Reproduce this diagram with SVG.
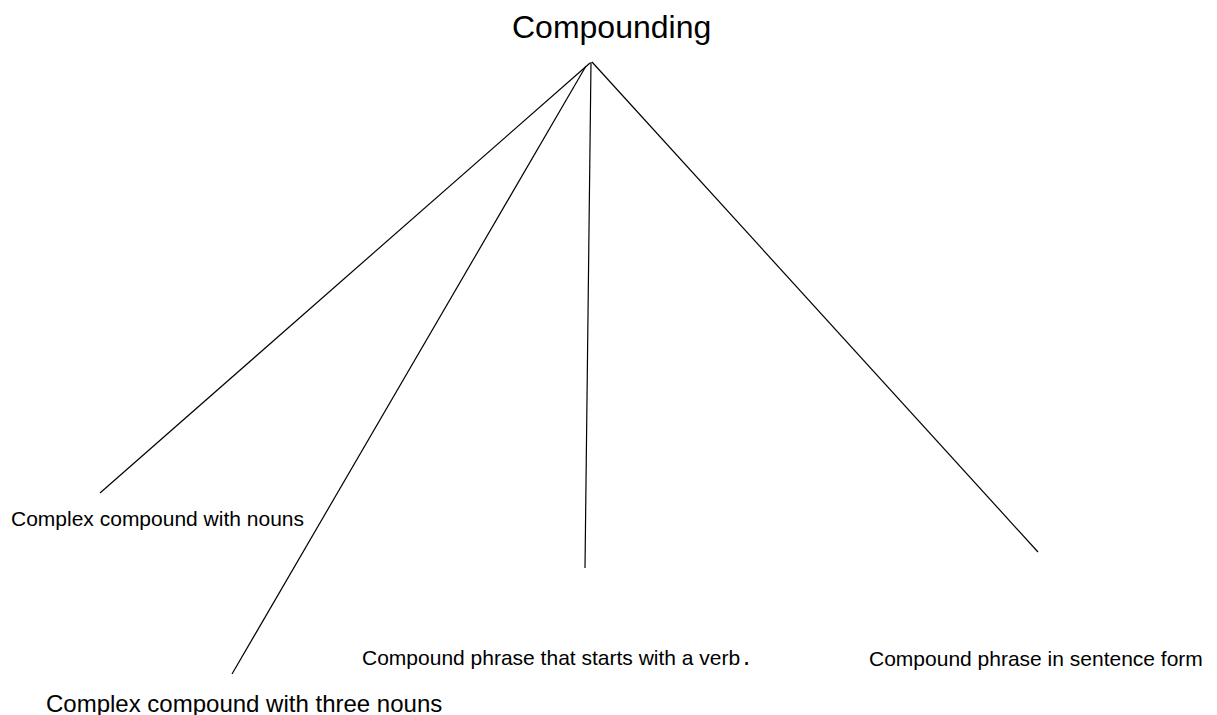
<svg xmlns="http://www.w3.org/2000/svg" width="1217" height="715" viewBox="0 0 1217 715">
<style>
.t{font-family:"Liberation Sans",Arial,sans-serif;fill:#000}
.m{font-family:"Liberation Mono","Courier New",monospace}
.c line{stroke:#000;stroke-width:1.2;fill:none}
</style>
<rect width="1217" height="715" fill="#fff"/>
<g id="connectors" class="c">
<line x1="590" y1="63" x2="100" y2="493"/>
<line x1="586" y1="66" x2="232" y2="674"/>
<line x1="591" y1="62" x2="585" y2="568"/>
<line x1="592" y1="62" x2="1038" y2="552"/>
</g>
<g id="root"><text class="t" x="512" y="38" font-size="32">Compounding</text></g>
<g id="n1"><text class="t" x="11" y="526" font-size="21">Complex compound with nouns</text></g>
<g id="n2"><text class="t" x="46" y="712" font-size="24">Complex compound with three nouns</text></g>
<g id="n3"><text class="t" x="362" y="665" font-size="21">Compound phrase that starts with a verb<tspan class="m">.</tspan></text></g>
<g id="n4"><text class="t" x="869" y="666" font-size="21">Compound phrase in sentence form</text></g>
</svg>
